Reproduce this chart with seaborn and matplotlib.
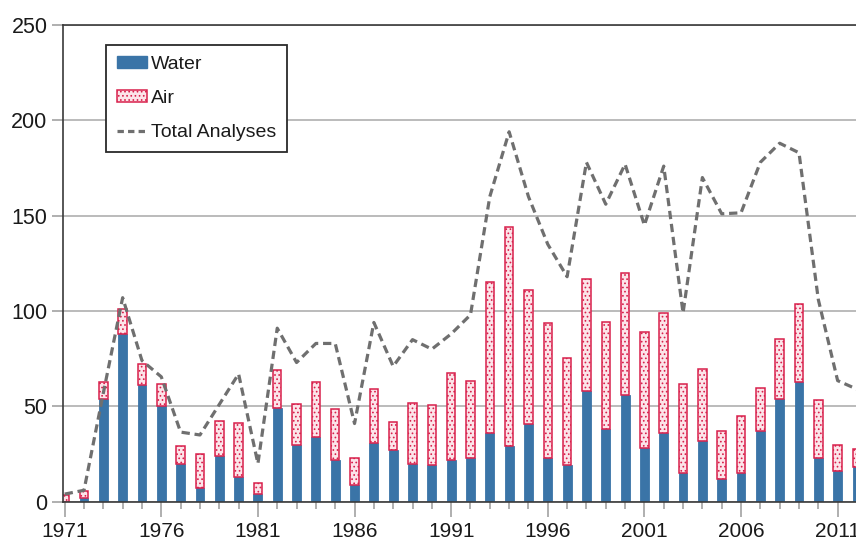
import numpy as np
import pandas as pd
import matplotlib
matplotlib.use("Agg")
import matplotlib.pyplot as plt
from matplotlib.patches import Patch
from matplotlib.lines import Line2D
from matplotlib.ticker import MultipleLocator
import seaborn as sns

# Dados (1971-2012)
anos = list(range(1971, 2013))
agua = [0, 2, 54, 88, 61, 50, 20, 7, 24, 13,
        4, 49, 30, 34, 22, 9, 31, 27, 20, 19,
        22, 23, 36, 29, 41, 23, 19, 58, 38, 56,
        28, 36, 15, 32, 12, 15, 37, 54, 63, 23,
        16, 18]
ar = [3.5, 3.5, 9, 13, 11, 11.5, 9, 18, 18.5, 28.5,
      6, 20, 21.5, 29, 26.5, 14, 28, 15, 32, 31.5,
      45.5, 40.5, 79, 115, 70, 70.5, 56.5, 59, 56.5, 64,
      61, 63, 46.5, 37.5, 25, 30, 22.5, 31.5, 40.5, 30.5,
      14, 9.5]
total_analises = [4, 6, 57, 107, 74, 65.5, 36.5, 35, 51, 67,
                  20, 91, 73, 83, 83, 41, 94, 71, 85, 80,
                  88, 98, 160, 194, 160, 135, 118, 178, 156, 177,
                  145, 176, 99, 170, 151, 151.5, 178, 188, 183, 106,
                  63.5, 59]

rotulos = ["Water", "Air", "Total Analyses"]

cor_agua = "#3a74a7"
cor_ar_borda = "#d8204c"
cor_ar_fundo = "#fce4e9"
cor_linha = "#6f6f6f"

df = pd.DataFrame({"ano": anos, "agua": agua, "ar": ar, "total": total_analises})

sns.set_theme(style="white")
plt.rcParams["font.family"] = ["Liberation Sans", "DejaVu Sans"]
plt.rcParams["hatch.linewidth"] = 0.7

fig = plt.figure(figsize=(8.56, 5.4), dpi=100)
ax = fig.add_axes([0.0733, 0.0709, 0.9267, 0.8828])

# barras de água
sns.barplot(data=df, x="ano", y="agua", native_scale=True, width=0.46,
            color=cor_agua, saturation=1, errorbar=None,
            edgecolor=cor_agua, linewidth=0.6, ax=ax)
# barras de ar empilhadas em cima
sns.barplot(data=df, x="ano", y="ar", native_scale=True, width=0.44,
            color=cor_ar_fundo, saturation=1, errorbar=None,
            edgecolor=cor_ar_borda, linewidth=1.1, hatch="....",
            bottom=df["agua"].values, ax=ax)
# linha do total de análises
sns.lineplot(data=df, x="ano", y="total", color=cor_linha, linewidth=2.3,
             linestyle=(0, (2.6, 1.5)), ax=ax)

ax.set_xlim(1970.9, 2011.95)
ax.set_ylim(0, 250)
ax.set_xlabel("")
ax.set_ylabel("")

ax.xaxis.set_major_locator(MultipleLocator(5, offset=1))
ax.xaxis.set_minor_locator(MultipleLocator(1))
ax.set_yticks(range(0, 251, 50))

ax.yaxis.grid(True, color="#a8a8a8", linewidth=1.1)
ax.set_axisbelow(True)

ax.tick_params(axis="x", which="major", length=11, width=1.1, color="#9a9a9a",
               labelsize=15, labelcolor="#1a1a1a", pad=3.5, direction="out", bottom=True)
ax.tick_params(axis="x", which="minor", length=5, width=1.1, color="#9a9a9a",
               direction="out", bottom=True)
ax.tick_params(axis="y", length=8, width=1.1, color="#9a9a9a", labelsize=15.5,
               labelcolor="#1a1a1a", pad=3, direction="out", left=True)

for lado in ["left", "top", "bottom"]:
    ax.spines[lado].set_color("#3a3a3a")
    ax.spines[lado].set_linewidth(1.2)
ax.spines["right"].set_visible(False)

handles = [
    Patch(facecolor=cor_agua, edgecolor=cor_agua),
    Patch(facecolor=cor_ar_fundo, edgecolor=cor_ar_borda, hatch="....", linewidth=1.1),
    Line2D([0], [0], color=cor_linha, linewidth=2.3, linestyle=(0, (2.0, 1.3))),
]
leg = ax.legend(handles, rotulos, loc="upper left", bbox_to_anchor=(0.0546, 0.958),
                borderaxespad=0, fontsize=14, frameon=True, fancybox=False,
                framealpha=1, edgecolor="#2a2a2a", handlelength=1.55,
                handleheight=0.55, handletextpad=0.2, labelspacing=0.88,
                borderpad=0.55)
leg.get_frame().set_linewidth(1.3)
for t in leg.get_texts():
    t.set_color("#1a1a1a")

fig.savefig("out.png", dpi=100)
